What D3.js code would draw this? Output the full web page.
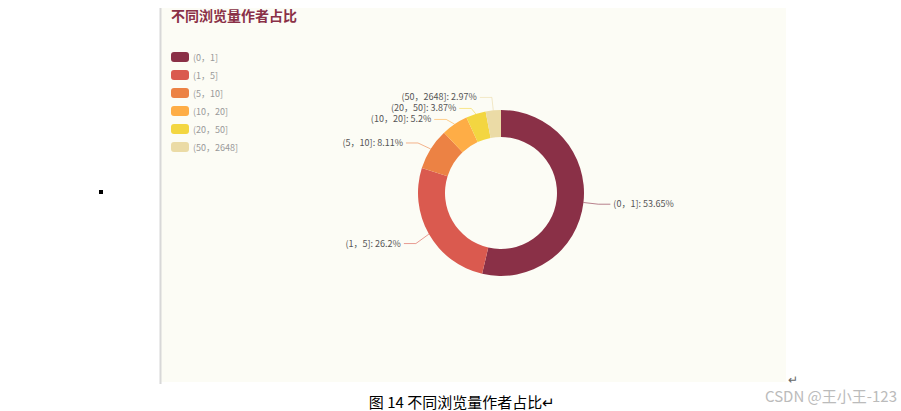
<!DOCTYPE html><html><head><meta charset="utf-8"><script src="https://cdn.jsdelivr.net/npm/d3@7"></script>
<style>body{margin:0;background:#fff;font-family:"Microsoft YaHei","Noto Sans CJK SC",sans-serif}</style></head><body><svg id="c" width="901" height="411"></svg>
<script>
const categories=["(0，1]","(1，5]","(5，10]","(10，20]","(20，50]","(50，2648]"];
const values=[53.65,26.2,8.11,5.2,3.87,2.97];
const colors=["#8a3047","#da5a4f","#ec8244","#fead46","#f3d641","#ebdba6"];
const svg=d3.select("#c");
svg.append("rect").attr("x",160).attr("y",8).attr("width",626).attr("height",374).attr("fill","#fcfcf5");
svg.append("line").attr("x1",160.5).attr("x2",160.5).attr("y1",8).attr("y2",384).attr("stroke","#d8d8d8").attr("stroke-width",2);
svg.append("rect").attr("x",99).attr("y",190).attr("width",4).attr("height",4).attr("fill","#000");
svg.append("text").attr("x",171).attr("y",21).attr("font-size",14).attr("font-weight","bold").attr("fill","#8a3047").text("不同浏览量作者占比");
const lg=svg.append("g");
categories.forEach((c,i)=>{const y=57+i*18;
 lg.append("rect").attr("x",171).attr("y",y-5).attr("width",18).attr("height",10).attr("rx",3).attr("fill",colors[i]);
 lg.append("text").attr("x",193).attr("y",y+3.5).attr("font-size",9).attr("fill","#999").text(c);});
const cx=501,cy=193,R=83,r=56;
const data=categories.map((c,i)=>({c,v:values[i],i}));
const arcs=d3.pie().sort(null).value(d=>d.v)(data);
const arc=d3.arc().innerRadius(r).outerRadius(R);
const g=svg.append("g").attr("transform",`translate(${cx},${cy})`);
g.selectAll("path").data(arcs).join("path").attr("d",arc).attr("fill",d=>colors[d.data.i]);
const labs=arcs.map(a=>{const m=(a.startAngle+a.endAngle)/2;const s=Math.sin(m),co=-Math.cos(m);
 return {a,m,sx:s*R,sy:co*R,ex:s*(R+15),ey:co*(R+15),right:s>0};});
const left=labs.filter(l=>!l.right).sort((a,b)=>a.ey-b.ey);
let prev=-1e9;left.forEach(l=>{l.ly=Math.max(l.ey+2,prev+11);prev=l.ly;});
labs.filter(l=>l.right).forEach(l=>l.ly=l.ey);
labs.forEach(l=>{const d=l.right?1:-1;const ex=l.ex, hx=ex+d*12;
 g.append("polyline").attr("points",`${l.sx},${l.sy} ${ex},${l.ly} ${hx},${l.ly}`).attr("fill","none").attr("stroke",colors[l.a.data.i]).attr("opacity",0.6);
 g.append("text").attr("x",hx+d*3).attr("y",l.ly+3).attr("font-size",9).attr("fill","#555").attr("text-anchor",l.right?"start":"end").text(l.a.data.c+": "+l.a.data.v+"%");});
svg.append("text").attr("x",462).attr("y",408).attr("text-anchor","middle").attr("font-size",15).attr("fill","#000").text("图 14 不同浏览量作者占比↵");
svg.append("text").attr("x",788).attr("y",384).attr("font-size",12).attr("fill","#666").text("↵");
svg.append("text").attr("x",897).attr("y",402).attr("text-anchor","end").attr("font-size",15).attr("fill","#bbb").text("CSDN @王小王-123");
</script></body></html>
